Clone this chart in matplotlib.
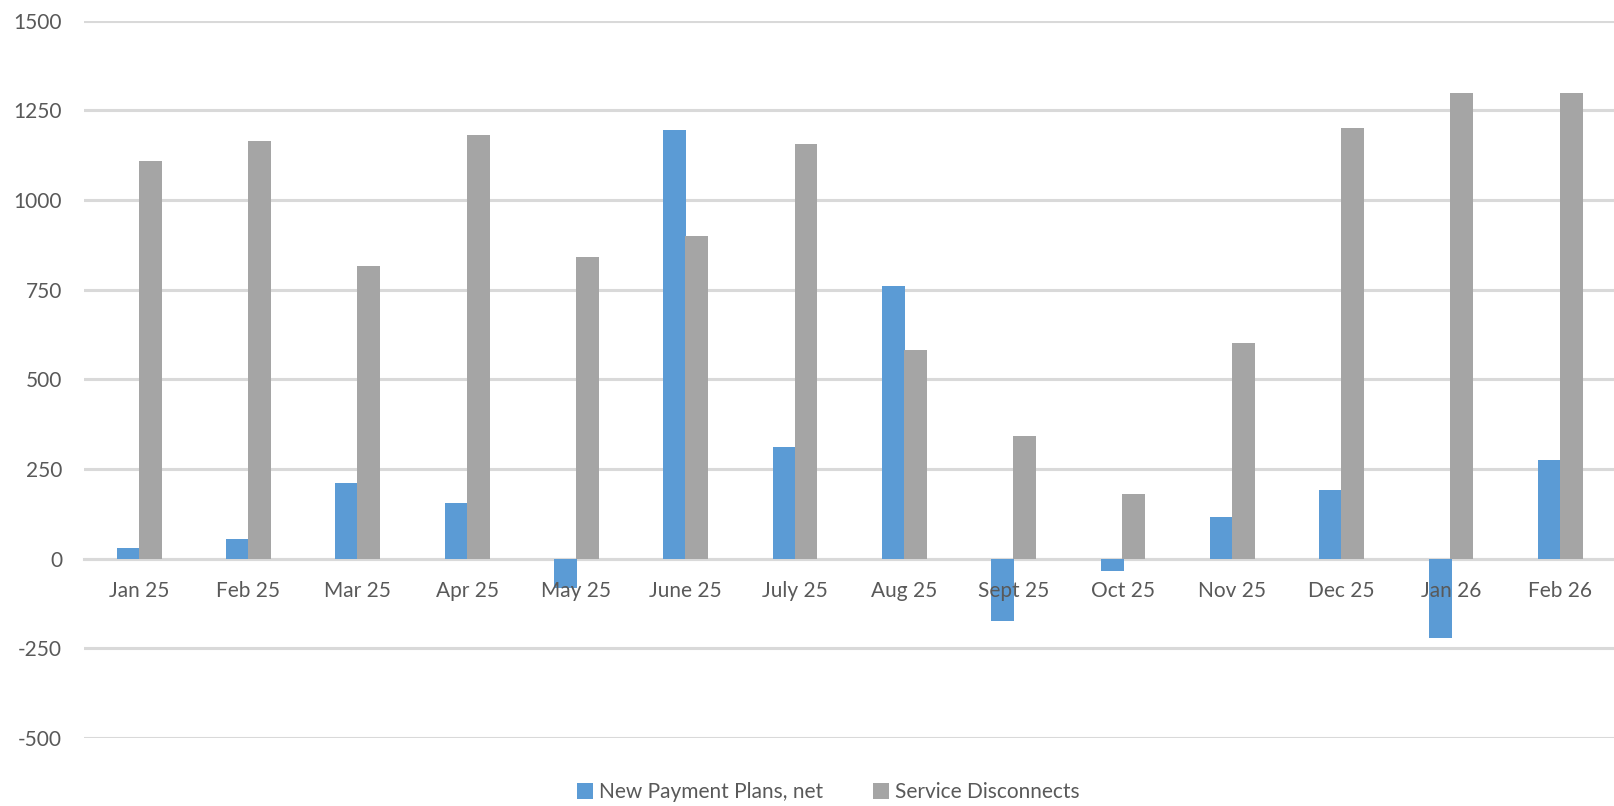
import matplotlib

matplotlib.use("Agg")

import numpy as np
from matplotlib import pyplot as plt

months = [
    "Jan 25", "Feb 25", "Mar 25", "Apr 25", "May 25", "June 25", "July 25",
    "Aug 25", "Sept 25", "Oct 25", "Nov 25", "Dec 25", "Jan 26", "Feb 26",
]
new_payment_plans = [29, 54, 211, 156, -81, 1194, 311, 761, -173, -35, 117, 192, -220, 276]
service_disconnects = [1110, 1165, 815, 1180, 840, 900, 1155, 581, 343, 179, 601, 1200, 1297, 1297]

BLUE = "#5B9BD5"
GREY = "#A5A5A5"
TEXT = "#595959"
GRID = "#D9D9D9"

plt.rcParams.update(
    {
        "font.family": ["Lato", "DejaVu Sans"],
        "font.size": 15,
        "text.color": TEXT,
        "xtick.color": TEXT,
        "ytick.color": TEXT,
        "axes.unicode_minus": False,
    }
)

fig = plt.figure(figsize=(16.15, 8.06), dpi=100)
ax = fig.add_axes([0.0523, 0.0844, 0.9477, 0.89])

x = np.arange(len(months))
width = 0.21
ax.bar(x - 0.1, new_payment_plans, width, color=BLUE, label="New Payment Plans, net", zorder=2)
ax.bar(x + 0.1, service_disconnects, width, color=GREY, label="Service Disconnects", zorder=2)

ax.set_xlim(-0.5, len(months) - 0.5)
ax.set_ylim(-500, 1500)
ax.set_yticks(np.arange(-500, 1501, 250))
ax.yaxis.grid(True, color=GRID, linewidth=2.2)
ax.yaxis.set_zorder(0.5)
# category labels sit on the zero line and are drawn over the bars
ax.xaxis.set_zorder(5)

ax.set_xticks(x)
ax.set_xticklabels(months)
ax.spines["bottom"].set_position(("data", 0))
ax.spines["bottom"].set_color(GRID)
ax.spines["bottom"].set_linewidth(2.2)
ax.spines["bottom"].set_zorder(0.6)
for side in ("top", "right", "left"):
    ax.spines[side].set_visible(False)
ax.tick_params(axis="x", length=0, pad=16, labelsize=15)
ax.tick_params(axis="y", length=0, pad=16, labelsize=15)

fig.legend(
    loc="center",
    bbox_to_anchor=(0.513, 0.017),
    ncol=2,
    frameon=False,
    fontsize=15,
    handlelength=0.75,
    handleheight=0.75,
    handletextpad=0.3,
    columnspacing=2.4,
)

fig.savefig("out.png", dpi=100)
